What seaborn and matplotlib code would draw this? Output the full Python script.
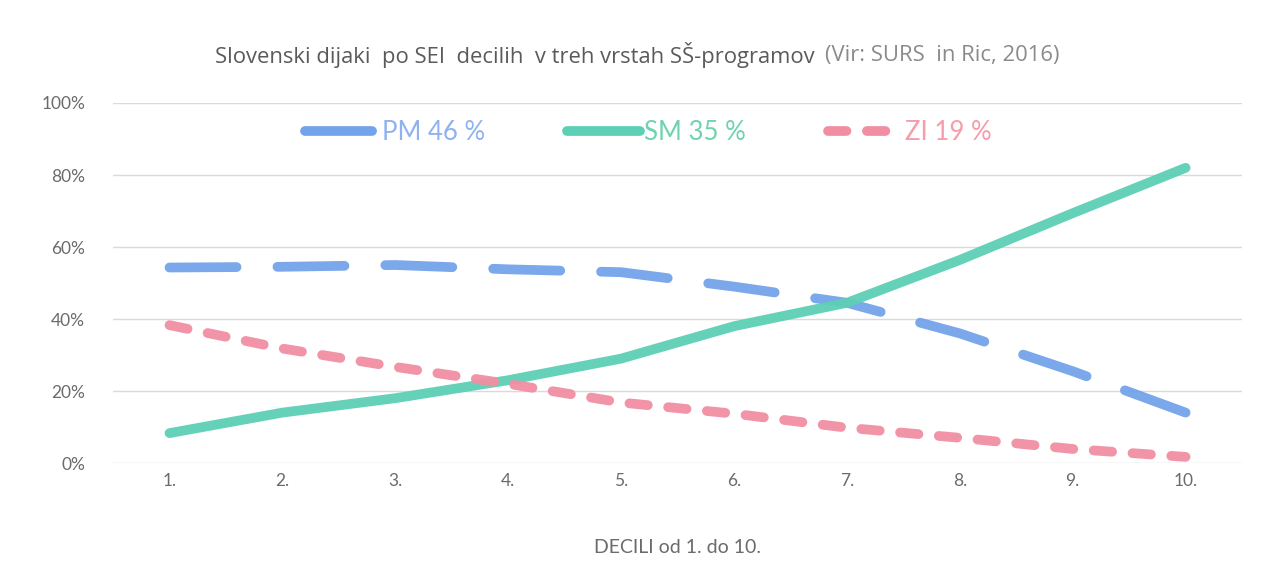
import numpy as np
import pandas as pd
import matplotlib
matplotlib.use('Agg')
import matplotlib.pyplot as plt
import seaborn as sns
from matplotlib.lines import Line2D

sns.set_style("white")
plt.rcParams['font.family'] = ['Lato', 'DejaVu Sans']

# data (share of students per SEI decile, %)
decili = [1, 2, 3, 4, 5, 6, 7, 8, 9, 10]
tick_labels = ['1.', '2.', '3.', '4.', '5.', '6.', '7.', '8.', '9.', '10.']
pm = [54.3, 54.5, 55.0, 53.8, 53.0, 49.0, 44.5, 36.0, 25.5, 14.0]
sm = [8.3, 14.0, 18.0, 23.0, 29.0, 38.0, 44.5, 56.4, 69.4, 82.0]
zi = [38.3, 31.8, 26.7, 22.0, 16.8, 13.7, 9.8, 7.0, 3.9, 1.7]
labels = ['PM 46 %', 'SM 35 %', 'ZI 19 %']

c_pm, c_sm, c_zi = '#73a3ea', '#5dcfb4', '#f28ea2'
t_pm, t_sm, t_zi = '#8fb2f0', '#6fd3ad', '#f79cab'
ls_pm = (0, (6.9, 4.2))
ls_sm = '-'
ls_zi = (0, (1.9, 2.1))
lw = 7

df = pd.DataFrame({'decil': decili, 'PM': np.array(pm) / 100,
                   'SM': np.array(sm) / 100, 'ZI': np.array(zi) / 100})

fig = plt.figure(figsize=(12.73, 5.7), dpi=100)
ax = fig.add_axes([0.0888, 0.1877, 0.8869, 0.6316])

for col, c, ls in [('PM', c_pm, ls_pm), ('SM', c_sm, ls_sm), ('ZI', c_zi, ls_zi)]:
    sns.lineplot(data=df, x='decil', y=col, ax=ax, color=c, linewidth=lw)
    line = ax.lines[-1]
    line.set_linestyle(ls)
    line.set_dash_capstyle('round')
    line.set_solid_capstyle('round')
    line.set_alpha(0.95)

ax.set_xlim(0.5, 10.5)
ax.set_ylim(0, 1)
ax.set_xticks(decili)
ax.set_xticklabels(tick_labels)
ax.set_yticks([0, 0.2, 0.4, 0.6, 0.8, 1.0])
ax.set_yticklabels(['0%', '20%', '40%', '60%', '80%', '100%'])
ax.tick_params(axis='y', length=0, pad=20, labelsize=12.5, labelcolor='#6b6b6b')
ax.tick_params(axis='x', length=0, pad=7, labelsize=12.5, labelcolor='#6b6b6b')
ax.grid(axis='y', color='#d9d9e0', linewidth=1)
ax.grid(axis='x', visible=False)
for s in ax.spines.values():
    s.set_visible(False)
ax.set_axisbelow(True)
ax.set_xlabel('DECILI od 1. do 10.', fontsize=14, color='#6b6b6b', labelpad=36)
ax.set_ylabel('')

handles = [Line2D([], [], color=c_pm, lw=lw, linestyle=ls_pm, dash_capstyle='round'),
           Line2D([], [], color=c_sm, lw=lw, linestyle=ls_sm, solid_capstyle='round'),
           Line2D([], [], color=c_zi, lw=lw, linestyle=ls_zi, dash_capstyle='round')]
leg = ax.legend(handles, labels, loc='center', bbox_to_anchor=(0.474, 0.919), ncol=3,
                frameon=False, fontsize=18.5, handlelength=2.85, handletextpad=0.15,
                columnspacing=3.2)
for txt, c in zip(leg.get_texts(), [t_pm, t_sm, t_zi]):
    txt.set_color(c)

# title in two colours
t1 = fig.text(215 / 1273, 1 - 55 / 570, 'Slovenski dijaki  po SEI  decilih  v treh vrstah SŠ-programov',
              fontsize=15.8, color='#5a5a5a', va='center', ha='left', family=['Open Sans', 'DejaVu Sans'])
fig.canvas.draw()
bb = t1.get_window_extent()
fig.text((bb.x1 + 10) / 1273, 1 - 55 / 570, '(Vir: SURS  in Ric, 2016)',
         fontsize=15.8, color='#8a8a8a', va='center', ha='left', family=['Open Sans', 'DejaVu Sans'])

fig.savefig('out.png', dpi=100)
